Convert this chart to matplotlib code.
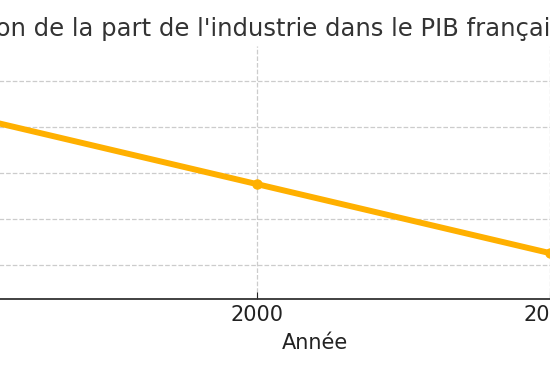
import matplotlib
matplotlib.use("Agg")
import matplotlib.pyplot as plt

# Part de l'industrie dans le PIB (%)
annees = [1990, 2000, 2010]
part_industrie = [16.5, 13.5, 10.5]
xticks = [1990, 2000, 2010]
yticks = [10, 12, 14, 16, 18]

fig = plt.figure(figsize=(5.5, 3.67), dpi=100)
# axes wider than the figure: the picture is a crop of a larger chart
ax = fig.add_axes([-185 / 550, 68 / 367, 1000 / 550, 253 / 367])

ax.plot(annees, part_industrie, color="#FFB000", linewidth=4.3,
        marker="o", markersize=6.5)

ax.set_xlim(1984.90, 2019.03)
ax.set_ylim(8.51, 19.51)
ax.set_xticks(xticks)
ax.set_yticks(yticks)
ax.tick_params(axis="x", direction="in", length=5, labelsize=15,
               colors="#222222", pad=4)
ax.tick_params(axis="y", length=0)

ax.grid(True, linestyle="--", color="#cccccc", linewidth=0.9)
ax.set_axisbelow(True)

for side in ["top", "right", "left"]:
    ax.spines[side].set_visible(False)
ax.spines["bottom"].set_color("#333333")
ax.spines["bottom"].set_linewidth(1.3)

ax.set_xlabel("Année", fontsize=15, color="#222222", labelpad=6)
ax.set_title("Évolution de la part de l'industrie dans le PIB français",
             fontsize=17.5, color="#333333", pad=7, x=0.4235)

fig.savefig("out.png", dpi=100)
